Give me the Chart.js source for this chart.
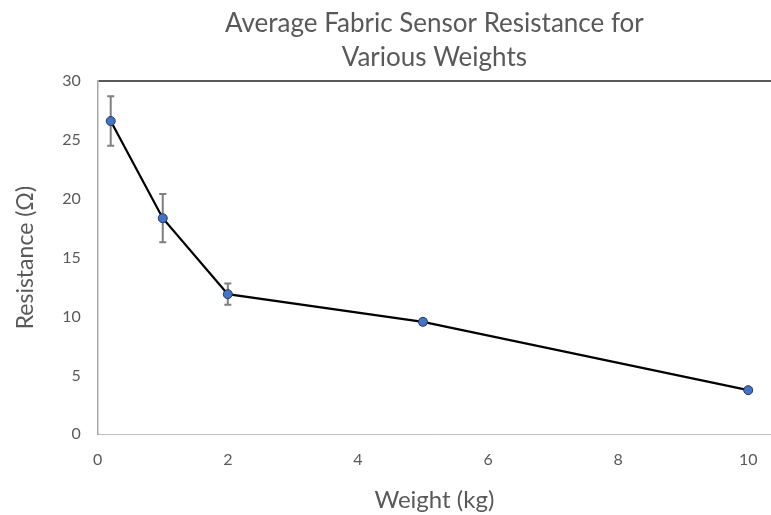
<!DOCTYPE html>
<html>
<head>
<meta charset="utf-8">
<script src="https://cdn.jsdelivr.net/npm/chart.js@4"></script>
<style>
  body { margin: 0; background: #fff; }
</style>
</head>
<body>
<canvas id="chart" width="771" height="515"></canvas>
<script>
// weights in kg, mean resistance in ohms, error bar half-heights
const weights = [0.2, 1, 2, 5, 10];
const resistance = [26.6, 18.35, 11.9, 9.55, 3.75];
const errors = [2.1, 2.05, 0.9, 0.25, 0.15];
const xTicks = [0, 2, 4, 6, 8, 10];
const yTicks = [0, 5, 10, 15, 20, 25, 30];

const textColor = '#595959';
Chart.defaults.font.family = 'Lato';
Chart.defaults.color = textColor;

// error bars go under the markers
const errorBars = {
  id: 'errorBars',
  beforeDatasetsDraw(chart) {
    const ctx = chart.ctx;
    const xs = chart.scales.x, ys = chart.scales.y;
    ctx.save();
    ctx.strokeStyle = '#7f7f7f';
    ctx.lineWidth = 2;
    weights.forEach(function (w, i) {
      const x = xs.getPixelForValue(w);
      const top = ys.getPixelForValue(resistance[i] + errors[i]);
      const bot = ys.getPixelForValue(resistance[i] - errors[i]);
      ctx.beginPath();
      ctx.moveTo(x, top); ctx.lineTo(x, bot);
      ctx.moveTo(x - 3.5, top); ctx.lineTo(x + 3.5, top);
      ctx.moveTo(x - 3.5, bot); ctx.lineTo(x + 3.5, bot);
      ctx.stroke();
    });
    ctx.restore();
  }
};

new Chart(document.getElementById('chart'), {
  type: 'scatter',
  data: {
    datasets: [{
      data: weights.map((w, i) => ({ x: w, y: resistance[i] })),
      showLine: true,
      borderColor: '#000',
      borderWidth: 2.25,
      pointRadius: 4.5,
      pointBackgroundColor: '#4472C4',
      pointBorderColor: '#1f3a66',
      pointBorderWidth: 1
    }]
  },
  options: {
    responsive: false,
    animation: false,
    layout: { autoPadding: false },
    plugins: {
      legend: { display: false },
      tooltip: { enabled: false },
      title: {
        display: true,
        fullSize: false,
        text: ['Average Fabric Sensor Resistance for', 'Various Weights'],
        font: { size: 26, weight: 'normal', lineHeight: 1.31 },
        color: textColor,
        padding: { top: 7, bottom: 5.9 }
      }
    },
    scales: {
      x: {
        type: 'linear',
        min: 0,
        max: 10.35,
        afterBuildTicks: s => { s.ticks = xTicks.map(v => ({ value: v })); },
        afterFit: s => { s.height = 80.7; },
        grid: { display: false, drawTicks: false },
        border: { display: true, color: '#bfbfbf', width: 1 },
        ticks: { font: { size: 16, lineHeight: 2.875 }, padding: 3, color: textColor },
        title: {
          display: true,
          text: 'Weight (kg)',
          font: { size: 24 },
          color: textColor,
          padding: { top: 0, bottom: 0 }
        }
      },
      y: {
        min: 0,
        max: 30,
        afterBuildTicks: s => { s.ticks = yTicks.map(v => ({ value: v })); },
        afterFit: s => { s.width = 97.7; },
        grid: {
          drawTicks: false,
          color: c => (c.tick && c.tick.value === 30 ? '#595959' : 'rgba(0,0,0,0)'),
          lineWidth: 2
        },
        border: { display: true, color: '#a6a6a6', width: 1.5 },
        ticks: { font: { size: 16 }, padding: 17, color: textColor },
        title: {
          display: true,
          text: 'Resistance (Ω)',
          font: { size: 23 },
          color: textColor,
          padding: { top: 12, bottom: 0 }
        }
      }
    }
  },
  plugins: [errorBars]
});
</script>
</body>
</html>
